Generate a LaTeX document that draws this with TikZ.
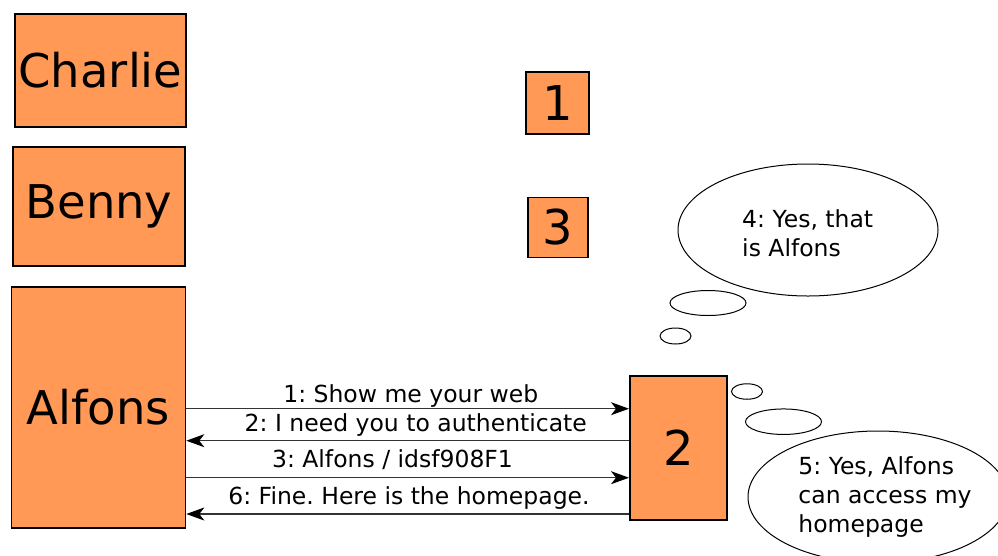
\documentclass[tikz,border=0pt]{standalone}
\usepackage{fontspec}
\setmainfont{DejaVu Sans}
\usetikzlibrary{arrows.meta,shapes.geometric}
\definecolor{boxorange}{HTML}{FF9955}
\frenchspacing
\begin{document}
\begin{tikzpicture}[x=1pt,y=-1pt,
  actor/.style={draw=black,line width=1.6pt,fill=boxorange,inner sep=0pt,
    font=\fontsize{46.5}{54}\selectfont},
  numbox/.style={actor,font=\fontsize{48}{56}\selectfont},
  msg/.style={inner sep=0pt,font=\fontsize{23.5}{29}\selectfont},
  msgarrow/.style={draw=black!80,line width=1.2pt,
    -{Stealth[length=18pt,width=13pt,inset=5pt,color=black]}},
  cloud/.style={ellipse,draw=black,line width=1pt,fill=white,inner sep=0pt},
  thought/.style={msg,align=left}]
\clip (0,0) rectangle (998,555);
\fill[white] (0,0) rectangle (998,555);

% actors
\node[actor,minimum width=171pt,minimum height=113pt] (charlie) at (100.5,70.5) {Charlie};
\node[actor,minimum width=172pt,minimum height=119pt] (benny) at (99,206.5) {Benny};
\node[actor,minimum width=174pt,minimum height=241pt] (alfons) at (98.5,407.2) {Alfons};

% numbered parties
\node[numbox,minimum width=63pt,minimum height=62pt] (one) at (557.7,102.9) {1};
\node[numbox,minimum width=60pt,minimum height=60pt] (three) at (557.7,227.3) {3};
\node[numbox,minimum width=97pt,minimum height=144pt] (two) at (678.3,448) {2};

% message levels
\coordinate (y1) at (0,408.7);
\coordinate (y2) at (0,440.7);
\coordinate (y3) at (0,477.7);
\coordinate (y4) at (0,514);

\draw[msgarrow] (alfons.east |- y1) -- (two.west |- y1);
\draw[msgarrow] (two.west |- y2) -- (alfons.east |- y2);
\draw[msgarrow] (alfons.east |- y3) -- (two.west |- y3);
\draw[msgarrow] (two.west |- y4) -- (alfons.east |- y4);

\node[msg,anchor=base] (m1) at (410.8,402.3) {1: Show me your web};
\node[msg,anchor=base] (m2) at (415.8,431.7) {2: I need you to authenticate};
\node[msg,anchor=base] (m3) at (392.5,467.3) {3: Alfons / idsf908F1};
\node[msg,anchor=base] (m6) at (409,504) {6: Fine. Here is the homepage.};

% thought bubbles of party 3
\node[cloud,minimum width=260pt,minimum height=132pt] (think4) at (808,230) {};
\node[cloud,minimum width=76pt,minimum height=25pt] (p4a) at (708,303) {};
\node[cloud,minimum width=31pt,minimum height=16pt] (p4b) at (675.5,336) {};
\node[thought] (t4) at (807.7,233) {4: Yes, that\\is Alfons};

% thought bubbles of party 2
\node[cloud,minimum width=31pt,minimum height=15.5pt] (p5a) at (747,391.5) {};
\node[cloud,minimum width=76pt,minimum height=25.5pt] (p5b) at (783.5,421.7) {};
\node[cloud,minimum width=260pt,minimum height=132pt] (think5) at (878,497) {};
\node[thought] (t5) at (885,497) {5: Yes, Alfons\\can access my\\homepage};
\end{tikzpicture}
\end{document}
